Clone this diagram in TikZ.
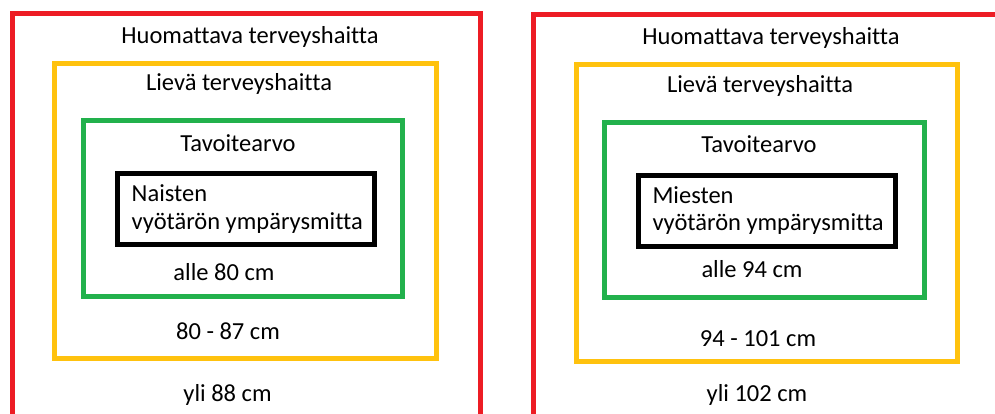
\documentclass[tikz,border=0pt]{standalone}
\usepackage{fontspec}
\setmainfont{Carlito}[Ligatures=NoCommon]
\definecolor{zonered}{HTML}{ED1C24}
\definecolor{zoneyellow}{HTML}{FFC20E}
\definecolor{zonegreen}{HTML}{22B14C}
\begin{document}
\begin{tikzpicture}[x=1pt,y=-1pt,
  zone/.style={line width=5pt},
  redzone/.style={zone,draw=zonered},
  yellowzone/.style={zone,draw=zoneyellow},
  greenzone/.style={zone,draw=zonegreen},
  blackzone/.style={zone,draw=black},
  lbl/.style={inner sep=0pt,anchor=base,font=\fontsize{24.5}{29}\selectfont},
  lblw/.style={lbl,anchor=base west}]
\useasboundingbox (0,0) rectangle (995,414);
\clip (0,0) rectangle (995,414);

% women
\draw[redzone] (12,14) rectangle (480.5,440);
\draw[yellowzone] (54,64) rectangle (436,358);
\draw[greenzone] (83,121) rectangle (402,296);
\draw[blackzone] (117,174) rectangle (374,244);
\node[lbl] (w1) at (250,43.5) {Huomattava terveyshaitta};
\node[lbl] (w2) at (239,91) {Lievä terveyshaitta};
\node[lbl] (w3) at (238,151.5) {Tavoitearvo};
\node[lblw] (w4) at (131.5,201) {Naisten};
\node[lblw] (w5) at (131.5,229) {vyötärön ympärysmitta};
\node[lbl] (w6) at (224,280) {alle 80 cm};
\node[lbl] (w7) at (228,339) {80 - 87 cm};
\node[lbl] (w8) at (227.5,401.5) {yli 88 cm};

% men
\draw[redzone] (533.5,15) rectangle (1010,440);
\draw[yellowzone] (576,65) rectangle (957.5,361);
\draw[greenzone] (604,122.5) rectangle (924,297.5);
\draw[blackzone] (638,176) rectangle (895,246);
\node[lbl] (m1) at (771,45) {Huomattava terveyshaitta};
\node[lbl] (m2) at (760,92.3) {Lievä terveyshaitta};
\node[lbl] (m3) at (759,152.7) {Tavoitearvo};
\node[lblw] (m4) at (652.3,203.3) {Miesten};
\node[lblw] (m5) at (652.3,230) {vyötärön ympärysmitta};
\node[lbl] (m6) at (752,277.3) {alle 94 cm};
\node[lbl] (m7) at (758,346) {94 - 101 cm};
\node[lbl] (m8) at (757,401.7) {yli 102 cm};
\end{tikzpicture}
\end{document}
